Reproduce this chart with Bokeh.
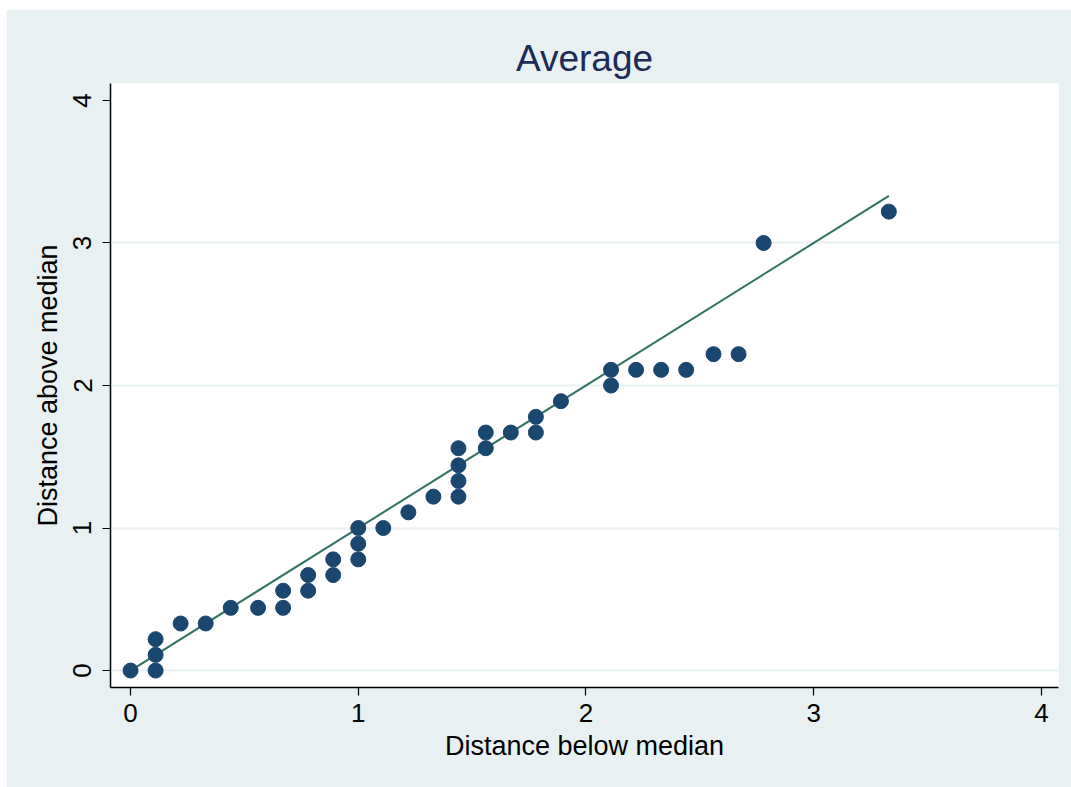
from bokeh.plotting import figure
from bokeh.models import Range1d, FixedTicker, ColumnDataSource
from bokeh.embed import file_html
from bokeh.resources import INLINE

# Distance below median (x) and distance above median (y)
below = [0.00, 0.11, 0.11, 0.11, 0.22, 0.33, 0.44, 0.56, 0.67, 0.67,
         0.78, 0.78, 0.89, 0.89, 1.00, 1.00, 1.00, 1.11, 1.22, 1.33,
         1.44, 1.44, 1.44, 1.44, 1.56, 1.56, 1.67, 1.78, 1.78, 1.89,
         2.11, 2.11, 2.22, 2.33, 2.44, 2.56, 2.67, 2.78, 3.33]
above = [0.00, 0.22, 0.11, 0.00, 0.33, 0.33, 0.44, 0.44, 0.56, 0.44,
         0.67, 0.56, 0.78, 0.67, 1.00, 0.89, 0.78, 1.00, 1.11, 1.22,
         1.56, 1.44, 1.33, 1.22, 1.67, 1.56, 1.67, 1.78, 1.67, 1.89,
         2.11, 2.00, 2.11, 2.11, 2.11, 2.22, 2.22, 3.00, 3.22]
ref_x = [0.0, 3.33]
ref_y = [0.0, 3.33]
ticks = [0, 1, 2, 3, 4]
grid_ticks = [0, 1, 2, 3]

BG = "#e9f0f2"
FONT = "Liberation Sans"

p = figure(width=1065, height=778, output_backend="svg", toolbar_location=None,
           x_range=Range1d(-0.088, 4.075), y_range=Range1d(-0.119, 4.119),
           min_border_left=104, min_border_right=13, min_border_top=74,
           min_border_bottom=100, title="Average")
p.margin = (9, 0, 0, 6)

p.background_fill_color = "white"
p.border_fill_color = BG
p.outline_line_color = None

p.title.align = "center"
p.title.text_font = FONT
p.title.text_font_size = "37px"
p.title.text_font_style = "normal"
p.title.text_color = "#1c2b58"
p.title.standoff = 9

src = ColumnDataSource(dict(x=below, y=above))
p.line(ref_x, ref_y, line_color="#2f7263", line_width=2)
p.scatter("x", "y", source=src, size=15, fill_color="#1a476f",
          line_color="#1a476f", line_width=1)

for ax in (p.xaxis[0], p.yaxis[0]):
    ax.ticker = FixedTicker(ticks=ticks)
    ax.minor_tick_line_color = None
    ax.major_tick_out = 8
    ax.major_tick_in = 0
    ax.axis_line_color = "black"
    ax.axis_line_width = 1.5
    ax.major_tick_line_color = "black"
    ax.major_tick_line_width = 1.2
    ax.major_label_text_font = FONT
    ax.major_label_text_font_size = "26px"
    ax.major_label_text_color = "black"
    ax.axis_label_text_font = FONT
    ax.axis_label_text_font_size = "27px"
    ax.axis_label_text_font_style = "normal"
    ax.axis_label_text_color = "black"

p.xaxis.major_label_standoff = 8
p.xaxis.axis_label_standoff = 6
p.yaxis.major_label_standoff = 11
p.yaxis.axis_label_standoff = 8

p.xaxis.axis_label = "Distance below median"
p.yaxis.axis_label = "Distance above median"
p.yaxis.major_label_orientation = "vertical"

p.xgrid.grid_line_color = None
p.ygrid.ticker = FixedTicker(ticks=grid_ticks)
p.ygrid.grid_line_color = BG
p.ygrid.grid_line_width = 2

open("out.html", "w").write(file_html(p, INLINE))
